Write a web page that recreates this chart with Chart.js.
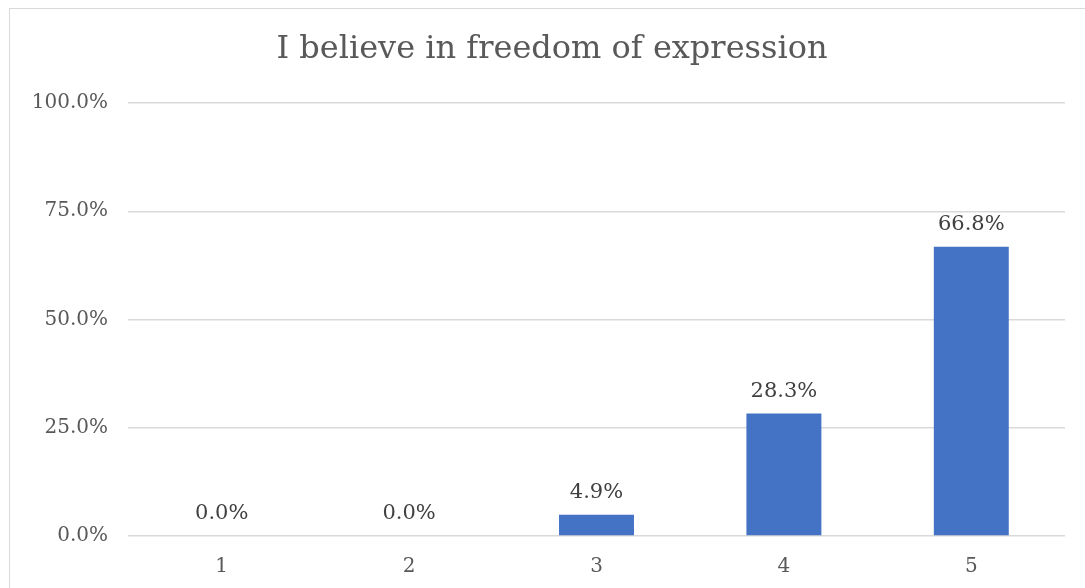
<!DOCTYPE html>
<html>
<head>
<meta charset="utf-8">
<script src="https://cdn.jsdelivr.net/npm/chart.js@4"></script>
<style>
  html, body { margin: 0; padding: 0; background: #fff; overflow: hidden; }
  #wrap { position: relative; width: 1085px; height: 588px; }
  #frame { position: absolute; left: 9px; top: 8px; width: 1200px; height: 700px;
           border: 1px solid #d9d9d9; pointer-events: none; }
</style>
</head>
<body>
<div id="wrap">
  <canvas id="grafico" width="1085" height="588"></canvas>
  <div id="frame"></div>
</div>
<script>
var categorias = ["1", "2", "3", "4", "5"];
var porcentajes = [0.0, 0.0, 4.9, 28.3, 66.8];
var titulo = "I believe in freedom of expression";
var fuente = "'DejaVu Serif', Georgia, serif";

// título y etiquetas de valor encima de cada barra
var textos = {
  id: "textos",
  afterDatasetsDraw: function (chart) {
    var ctx = chart.ctx;
    var meta = chart.getDatasetMeta(0);
    ctx.save();
    ctx.textAlign = "center";
    ctx.textBaseline = "middle";

    ctx.font = "32px " + fuente;
    ctx.fillStyle = "#595959";
    ctx.fillText(titulo, 552, 50);

    ctx.font = "21px " + fuente;
    ctx.fillStyle = "#404040";
    meta.data.forEach(function (bar, i) {
      ctx.fillText(porcentajes[i].toFixed(1) + "%", bar.x, bar.y - 22);
    });
    ctx.restore();
  }
};

var ctx = document.getElementById("grafico").getContext("2d");
new Chart(ctx, {
  type: "bar",
  data: {
    labels: categorias,
    datasets: [{
      data: porcentajes,
      backgroundColor: "#4472C4",
      barPercentage: 0.4,
      categoryPercentage: 1.0
    }]
  },
  options: {
    responsive: false,
    animation: false,
    layout: { padding: { left: 0, right: 20, top: 103, bottom: 0 } },
    plugins: {
      legend: { display: false },
      tooltip: { enabled: false },
      title: { display: false }
    },
    scales: {
      x: {
        grid: { display: false, drawTicks: false },
        border: { display: false },
        ticks: { color: "#595959", padding: 19, font: { family: fuente, size: 20 } },
        afterFit: function (scale) { scale.height = 52; }
      },
      y: {
        min: 0,
        max: 100,
        grid: { color: "#d9d9d9", lineWidth: 1.5, drawTicks: false },
        border: { display: false },
        ticks: {
          stepSize: 25,
          color: "#595959",
          padding: 20,
          font: { family: fuente, size: 20 },
          callback: function (v) { return v.toFixed(1) + "%"; }
        },
        afterFit: function (scale) { scale.width = 128; }
      }
    }
  },
  plugins: [textos]
});
</script>
</body>
</html>
